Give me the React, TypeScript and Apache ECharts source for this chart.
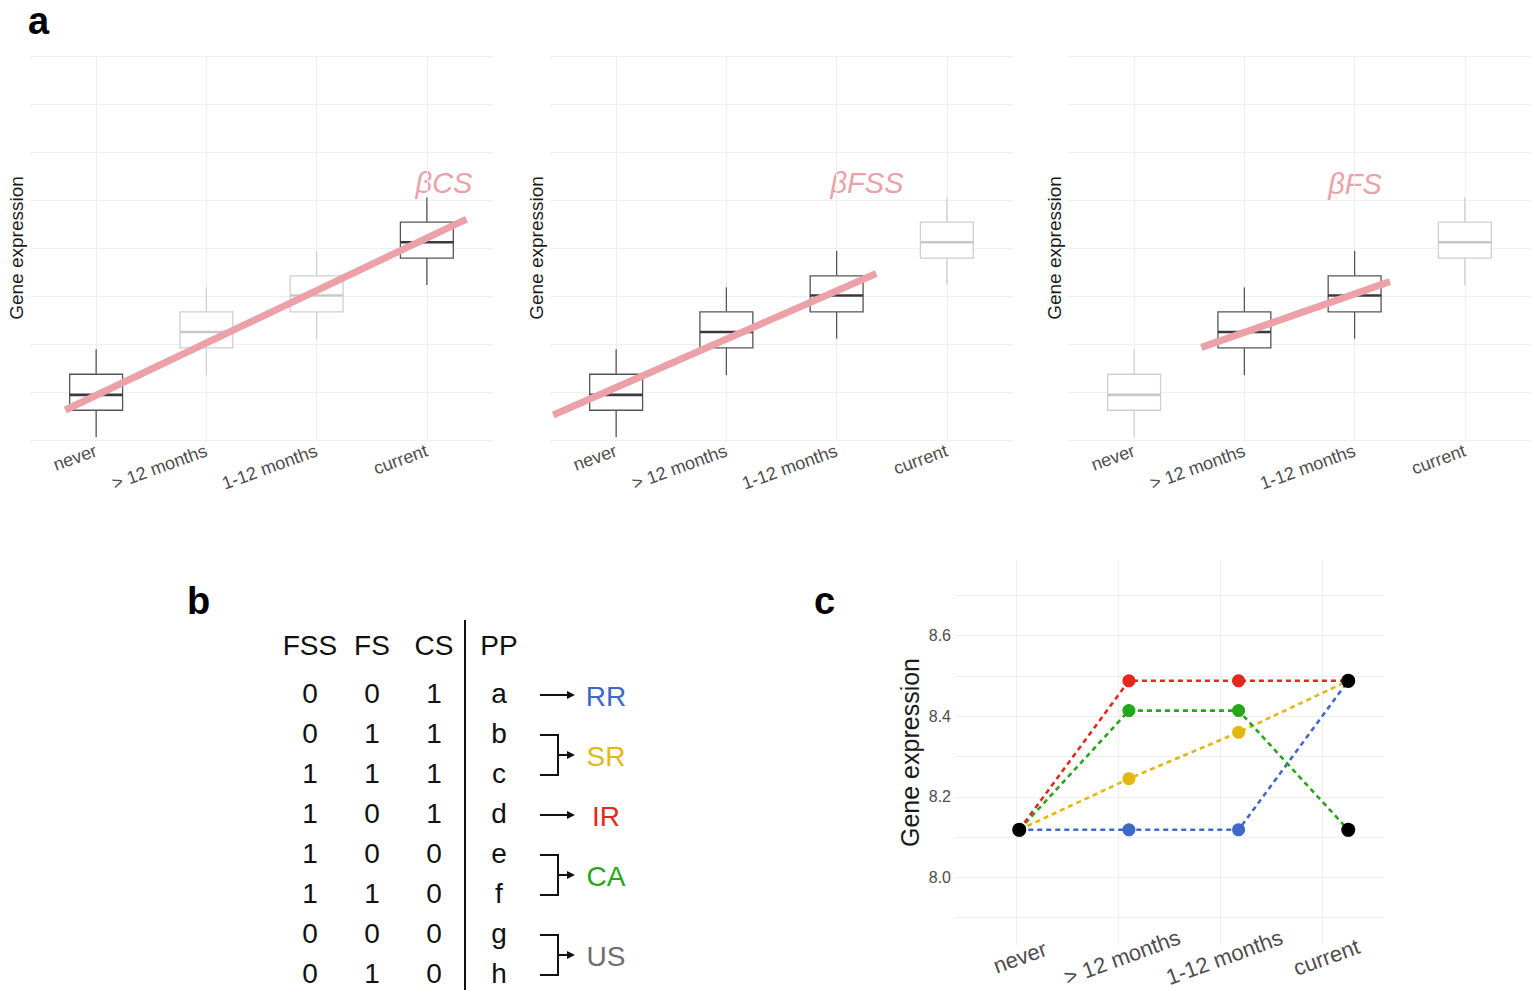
import React, { useEffect, useRef } from 'react';
import * as echarts from 'echarts';

// Smoking-status categories shared by every panel
const categories = ['never', '> 12 months', '1-12 months', 'current'];
const categoryIdx = [0, 1, 2, 3];

// Box statistics per category (arbitrary expression units)
const boxLow = [0.06, 1.35, 2.11, 3.23];
const boxQ1 = [0.62, 1.92, 2.67, 3.79];
const boxMedian = [0.94, 2.25, 3.01, 4.12];
const boxQ3 = [1.37, 2.67, 3.42, 4.54];
const boxHigh = [1.89, 3.18, 3.94, 5.05];

// Which categories take part in each contrast
const contrastNames = ['βCS', 'βFSS', 'βFS'];
const activeCS = [1, 0, 0, 1];
const activeFSS = [1, 1, 1, 0];
const activeFS = [0, 1, 1, 0];

// Fitted trend segments: [category position, expression]
const fitCS = [[-0.28, 0.625], [3.36, 4.6]];
const fitFSS = [[-0.57, 0.52], [2.36, 3.47]];
const fitFS = [[0.61, 1.93], [2.32, 3.3]];

// Panel c: expression patterns across categories
const rrValues = [8.118, 8.118, 8.118, 8.488];
const srValues = [8.118, 8.245, 8.36, 8.488];
const irValues = [8.118, 8.488, 8.488, 8.488];
const caValues = [8.118, 8.414, 8.414, 8.118];
const anchorX = [0, 3, 3];
const anchorY = [8.118, 8.488, 8.118];
const yGridC = [7.9, 8.0, 8.1, 8.2, 8.3, 8.4, 8.5, 8.6, 8.7];
const yLabelsC = [8.0, 8.2, 8.4, 8.6];

// Panel b: truth table of contrasts and resulting patterns
const tableHeaders = ['FSS', 'FS', 'CS', 'PP'];
const colFSS = [0, 0, 1, 1, 1, 1, 0, 0];
const colFS = [0, 1, 1, 0, 0, 1, 0, 1];
const colCS = [1, 1, 1, 1, 0, 0, 0, 0];
const ppLetters = ['a', 'b', 'c', 'd', 'e', 'f', 'g', 'h'];
const groupNames = ['RR', 'SR', 'IR', 'CA', 'US'];
const groupRows = [[0], [1, 2], [3], [4, 5], [6, 7]];
const groupColors = ['#3f69c6', '#e3b80e', '#e8261c', '#25a718', '#6e6e6e'];

const RR_COLOR = '#3f69c6';
const SR_COLOR = '#e3b80e';
const IR_COLOR = '#e8261c';
const CA_COLOR = '#25a718';

const FONT = '"Liberation Sans", Arial, Helvetica, sans-serif';
const PINK = '#eca1a9';
const GRID_LINE = '#efefef';

function boxRenderItem(params: any, api: any) {
  const x = api.value(0);
  const on = api.value(6) === 1;
  const stroke = on ? '#555555' : '#cfcfcf';
  const medStroke = on ? '#3a3a3a' : '#c8c8c8';
  const hw = 0.24;
  const pLow = api.coord([x, api.value(1)]);
  const pQ1 = api.coord([x, api.value(2)]);
  const pMed = api.coord([x, api.value(3)]);
  const pQ3 = api.coord([x, api.value(4)]);
  const pHigh = api.coord([x, api.value(5)]);
  const left = api.coord([x - hw, api.value(3)])[0];
  const right = api.coord([x + hw, api.value(3)])[0];
  return {
    type: 'group',
    children: [
      { type: 'line', shape: { x1: pLow[0], y1: pLow[1], x2: pQ1[0], y2: pQ1[1] }, style: { stroke, lineWidth: 1.3 } },
      { type: 'line', shape: { x1: pQ3[0], y1: pQ3[1], x2: pHigh[0], y2: pHigh[1] }, style: { stroke, lineWidth: 1.3 } },
      {
        type: 'rect',
        shape: { x: left, y: pQ3[1], width: right - left, height: pQ1[1] - pQ3[1] },
        style: { fill: '#ffffff', stroke, lineWidth: 1.3 },
      },
      { type: 'line', shape: { x1: left, y1: pMed[1], x2: right, y2: pMed[1] }, style: { stroke: medStroke, lineWidth: 2.6 } },
    ],
  };
}

function buildOption() {
  const panelLefts = [30, 550, 1068];
  const actives = [activeCS, activeFSS, activeFS];
  const fits = [fitCS, fitFSS, fitFS];
  const titlePos = [
    [444, 183],
    [867, 183],
    [1355, 184],
  ];

  const grid: any[] = panelLefts.map((l) => ({ left: l, top: 56, width: 463, height: 384 }));
  grid.push({ left: 955, top: 560, width: 429, height: 385 });

  const xAxis: any[] = panelLefts.map((_, i) => ({
    type: 'value',
    gridIndex: i,
    min: -0.6,
    max: 3.6,
    axisLine: { show: false },
    axisTick: { show: false, customValues: categoryIdx },
    axisLabel: {
      customValues: categoryIdx,
      formatter: (v: number) => categories[Math.round(v)],
      rotate: 20,
      fontSize: 18,
      fontFamily: FONT,
      color: '#4d4d4d',
      margin: 10,
    },
    splitLine: { show: true, lineStyle: { color: GRID_LINE, width: 1 } },
  }));
  // Panel c: category axis carrying labels and grid lines
  xAxis.push({
    type: 'value',
    gridIndex: 3,
    min: -0.6,
    max: 3.6,
    axisLine: { show: false },
    axisTick: { show: false, customValues: categoryIdx },
    axisLabel: {
      customValues: categoryIdx,
      formatter: (v: number) => categories[Math.round(v)],
      rotate: 20,
      align: 'center',
      verticalAlign: 'top',
      fontSize: 22,
      fontFamily: FONT,
      color: '#4d4d4d',
      margin: 2,
    },
    splitLine: { show: true, lineStyle: { color: GRID_LINE, width: 1 } },
  });
  // Panel c: axis used for the pattern points
  xAxis.push({
    type: 'value',
    gridIndex: 3,
    min: -0.586,
    max: 3.326,
    show: false,
    splitLine: { show: false },
  });

  const yAxis: any[] = panelLefts.map((_, i) => ({
    type: 'value',
    gridIndex: i,
    min: 0,
    max: 8,
    interval: 1,
    axisLine: { show: false },
    axisTick: { show: false },
    axisLabel: { show: false },
    splitLine: { show: true, lineStyle: { color: GRID_LINE, width: 1 } },
    name: 'Gene expression',
    nameLocation: 'middle',
    nameRotate: 90,
    nameGap: 4,
    nameTextStyle: { fontSize: 19, fontFamily: FONT, color: '#1a1a1a' },
  }));
  yAxis.push({
    type: 'value',
    gridIndex: 3,
    min: 7.832,
    max: 8.788,
    axisLine: { show: false },
    axisTick: { show: false, customValues: yGridC },
    axisLabel: {
      customValues: yLabelsC,
      formatter: (v: number) => v.toFixed(1),
      fontSize: 16,
      fontFamily: FONT,
      color: '#4d4d4d',
      margin: 4,
    },
    splitLine: { show: true, lineStyle: { color: GRID_LINE, width: 1 } },
    name: 'Gene expression',
    nameLocation: 'middle',
    nameRotate: 90,
    nameGap: 33,
    nameTextStyle: { fontSize: 25, fontFamily: FONT, color: '#1a1a1a' },
  });

  const series: any[] = [];
  panelLefts.forEach((_, i) => {
    series.push({
      type: 'custom',
      name: 'box-' + contrastNames[i],
      xAxisIndex: i,
      yAxisIndex: i,
      renderItem: boxRenderItem,
      encode: { x: 0, y: [1, 2, 3, 4, 5] },
      data: categoryIdx.map((k) => [k, boxLow[k], boxQ1[k], boxMedian[k], boxQ3[k], boxHigh[k], actives[i][k]]),
      z: 2,
      silent: true,
    });
    series.push({
      type: 'line',
      name: contrastNames[i],
      xAxisIndex: i,
      yAxisIndex: i,
      data: fits[i],
      symbol: 'none',
      lineStyle: { color: PINK, width: 7 },
      z: 3,
      silent: true,
    });
  });

  const patterns = [
    { name: 'RR', values: rrValues, color: RR_COLOR },
    { name: 'SR', values: srValues, color: SR_COLOR },
    { name: 'CA', values: caValues, color: CA_COLOR },
    { name: 'IR', values: irValues, color: IR_COLOR },
  ];
  patterns.forEach((p) => {
    series.push({
      type: 'line',
      name: p.name,
      xAxisIndex: 4,
      yAxisIndex: 3,
      data: categoryIdx.map((k) => [k, p.values[k]]),
      symbol: 'circle',
      symbolSize: 13,
      itemStyle: { color: p.color, opacity: 1 },
      lineStyle: { color: p.color, width: 2.6, type: [5, 4] },
      z: 3,
      silent: true,
    });
  });
  series.push({
    type: 'scatter',
    name: 'anchors',
    xAxisIndex: 4,
    yAxisIndex: 3,
    data: anchorX.map((x, k) => [x, anchorY[k]]),
    symbol: 'circle',
    symbolSize: 14,
    itemStyle: { color: '#000000', opacity: 1 },
    z: 4,
    silent: true,
  });

  // Panel b and annotation graphics
  const graphic: any[] = [];
  const txt = (text: string, x: number, y: number, size: number, extra: any = {}) => ({
    type: 'text',
    x,
    y,
    silent: true,
    style: {
      text,
      fontSize: size,
      fontFamily: FONT,
      fill: '#111111',
      align: 'center',
      verticalAlign: 'middle',
      ...extra,
    },
  });

  // panel letters
  graphic.push(txt('a', 28, 21, 38, { fontWeight: 'bold', align: 'left', fill: '#000' }));
  graphic.push(txt('b', 187, 601, 38, { fontWeight: 'bold', align: 'left', fill: '#000' }));
  graphic.push(txt('c', 814, 601, 38, { fontWeight: 'bold', align: 'left', fill: '#000' }));

  // contrast labels
  contrastNames.forEach((n, i) => {
    graphic.push(txt(n, titlePos[i][0], titlePos[i][1], 29, { fontStyle: 'italic', fill: PINK }));
  });

  // table
  const colX = [310, 372, 434, 499];
  tableHeaders.forEach((h, i) => graphic.push(txt(h, colX[i], 645, 28)));
  const rowY = (r: number) => 693 + 40 * r;
  ppLetters.forEach((l, r) => {
    graphic.push(txt(String(colFSS[r]), colX[0], rowY(r), 28));
    graphic.push(txt(String(colFS[r]), colX[1], rowY(r), 28));
    graphic.push(txt(String(colCS[r]), colX[2], rowY(r), 28));
    graphic.push(txt(l, colX[3], rowY(r), 28));
  });
  graphic.push({
    type: 'line',
    silent: true,
    shape: { x1: 465, y1: 620, x2: 465, y2: 990 },
    style: { stroke: '#111', lineWidth: 2 },
  });

  const arrowHead = (tipX: number, y: number) => ({
    type: 'polygon',
    silent: true,
    shape: { points: [[tipX, y], [tipX - 8, y - 4], [tipX - 8, y + 4]] },
    style: { fill: '#111' },
  });
  groupNames.forEach((g, gi) => {
    const rows = groupRows[gi];
    const top = rowY(rows[0]) + 2;
    const bottom = rowY(rows[rows.length - 1]) + 2;
    const mid = (top + bottom) / 2;
    if (rows.length === 1) {
      graphic.push({
        type: 'line',
        silent: true,
        shape: { x1: 540, y1: mid, x2: 568, y2: mid },
        style: { stroke: '#111', lineWidth: 2 },
      });
    } else {
      graphic.push({
        type: 'polyline',
        silent: true,
        shape: { points: [[540, top], [558, top], [558, bottom], [540, bottom]] },
        style: { stroke: '#111', lineWidth: 2, fill: null },
      });
      graphic.push({
        type: 'line',
        silent: true,
        shape: { x1: 558, y1: mid, x2: 568, y2: mid },
        style: { stroke: '#111', lineWidth: 2 },
      });
    }
    graphic.push(arrowHead(575, mid));
    graphic.push(txt(g, 606, mid + 1, 28, { fill: groupColors[gi] }));
  });

  return {
    animation: false,
    backgroundColor: '#ffffff',
    textStyle: { fontFamily: FONT },
    grid,
    xAxis,
    yAxis,
    series,
    graphic,
  };
}

export default function App() {
  const ref = useRef<HTMLDivElement>(null);
  useEffect(() => {
    if (!ref.current) return;
    const chart = echarts.init(ref.current, undefined, { renderer: 'svg' });
    chart.setOption(buildOption() as any);
    return () => chart.dispose();
  }, []);
  return (
    <div
      ref={ref}
      style={{ position: 'absolute', left: 0, top: 0, width: 1531, height: 990, background: '#fff' }}
    />
  );
}
